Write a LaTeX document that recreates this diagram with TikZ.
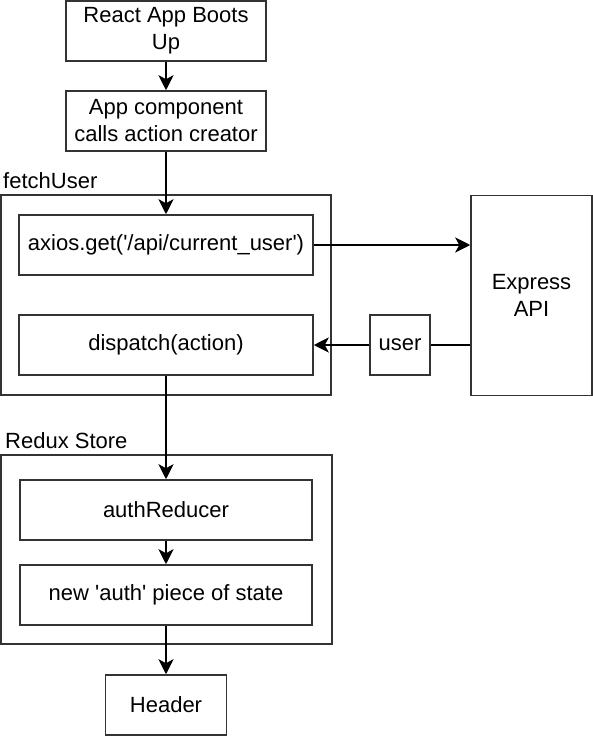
\documentclass[tikz,border=0pt]{standalone}
\usepackage{fontspec}
\setmainfont{Liberation Sans}
\usetikzlibrary{arrows.meta}
\newcommand{\sq}{\textquotesingle}
\begin{document}
\begin{tikzpicture}[x=1pt,y=-1pt,
    box/.style={draw=black!80, line width=1.5pt, minimum width=#1, minimum height=60pt,
        inner sep=0pt, align=center, font=\fontsize{22}{27}\selectfont},
    box/.default=200pt,
    groupbox/.style={draw=black!80, line width=1.5pt, inner sep=0pt},
    grouptitle/.style={anchor=base west, inner sep=0pt, font=\fontsize{22}{27}\selectfont},
    flow/.style={-{Stealth[length=15pt,width=15pt,inset=4pt]}, line width=2.6pt}]
    % Fix the canvas
    \useasboundingbox (0,0) rectangle (593,736);

    % App start
    \node[box] (boot) at (166,31) {React App Boots\\Up};
    \node[box] (app) at (166,121) {App component\\calls action creator};

    % fetchUser action creator
    \node[groupbox, minimum width=330pt, minimum height=200pt] (fetch) at (166,295) {};
    \node[grouptitle] (fetchtitle) at (3,188) {fetchUser};
    \node[box=294pt] (axios) at (166,245) {axios.get(\sq/api/current\_user\sq)};
    \node[box=294pt] (dispatch) at (166,345) {dispatch(action)};

    % Server side
    \node[box=121pt, minimum height=200pt] (express) at (531.5,295.5) {Express\\API};
    \node[box=60pt] (user) at (400,345) {user};

    % Redux store
    \node[groupbox, minimum width=331pt, minimum height=189pt] (store) at (166.5,549.5) {};
    \node[grouptitle] (storetitle) at (5,448) {Redux Store};
    \node[box=292pt] (reducer) at (166,510) {authReducer};
    \node[box=292pt] (state) at (166,595) {new \sq auth\sq{} piece of state};
    \node[box=121pt] (header) at (166,705) {Header};

    % Connectors
    \draw[flow] (boot) -- (app);
    \draw[flow] (app) -- (axios);
    \draw[flow] (axios.east) -- (axios.east -| express.west);
    \draw[line width=2.6pt] (express.west |- user) -- (user);
    \draw[flow] (user) -- (dispatch);
    \draw[flow] (dispatch) -- (reducer);
    \draw[flow] (reducer) -- (state);
    \draw[flow] (state) -- (header);
\end{tikzpicture}
\end{document}
